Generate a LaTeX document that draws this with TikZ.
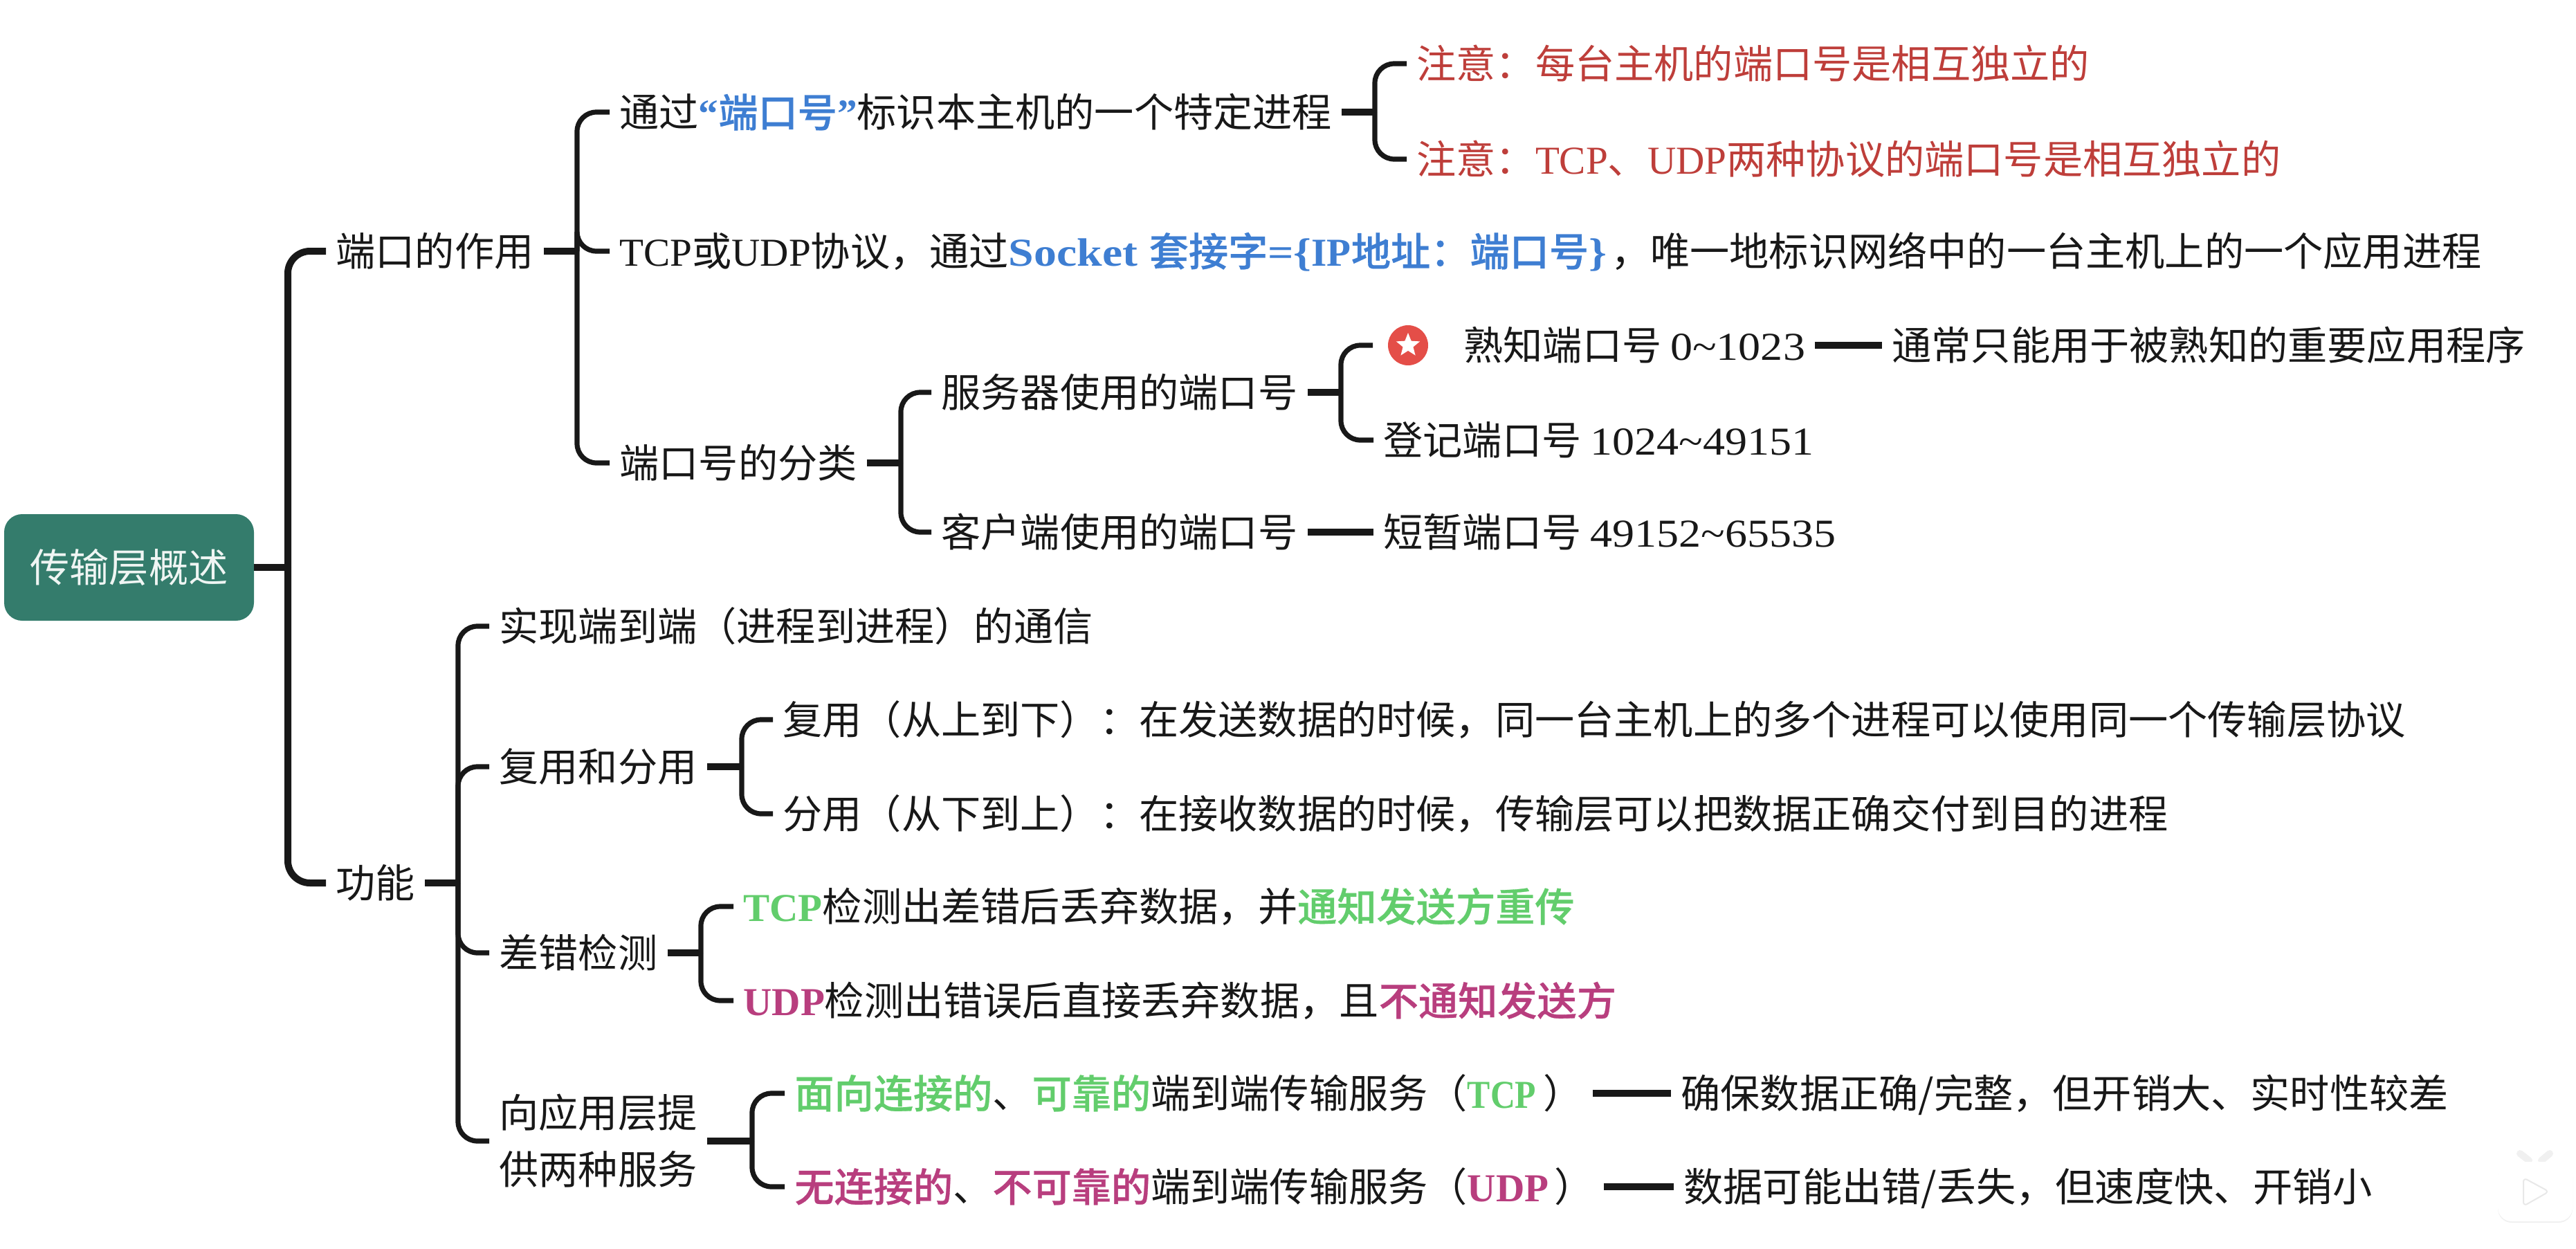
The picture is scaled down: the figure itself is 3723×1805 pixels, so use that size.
\documentclass[tikz,border=0pt]{standalone}
\usepackage{fontspec}
\usepackage{xcolor}
\usepackage{tikz}
\setmainfont{Noto Sans CJK SC}[BoldFont={Noto Sans CJK SC Medium},BoldFeatures={FakeBold=0.5}]
\newfontfamily\lat{Liberation Serif}
\newfontfamily\latw[FakeStretch=1.15]{Liberation Serif}
\newfontfamily\latn[FakeStretch=0.87]{Liberation Serif}
\newfontfamily\num[FakeStretch=1.12]{Liberation Serif}
\definecolor{rootteal}{RGB}{52,124,108}
\definecolor{inkblack}{RGB}{24,24,24}
\definecolor{keyblue}{RGB}{62,126,210}
\definecolor{notered}{RGB}{190,62,58}
\definecolor{badgered}{RGB}{228,78,72}
\definecolor{okgreen}{RGB}{98,205,108}
\definecolor{badrose}{RGB}{184,62,126}
\usetikzlibrary{shapes.geometric,positioning,shadows}

\begin{document}
\begin{tikzpicture}[
    x=0.5pt, y=-0.5pt,
    txt/.style={anchor=west, inner xsep=7pt, inner ysep=0pt, text=inkblack, font=\fontsize{28.6}{41}\selectfont, text height=25pt, text depth=3.4pt},
    rootbox/.style={rectangle, rounded corners=13pt, fill=rootteal, text=white!92!rootteal, minimum width=180.5pt, minimum height=77pt, font=\fontsize{28.6}{41}\selectfont},
    stub/.style={line width=5pt, draw=inkblack},
    bar/.style={line width=3.6pt, draw=inkblack, rounded corners=14pt},
    mainbar/.style={line width=5pt, draw=inkblack, rounded corners=16pt}
]
\useasboundingbox (0,0) rectangle (3723,1805);

% Root
\node[rootbox] (root) at (186.5,820) {传输层概述};
\coordinate (rootj) at (416,820);

% Port branch
\node[txt] (port) at (471,363) {端口的作用};
\coordinate (portj) at (834,363);
\node[txt] (ident) at (881,162) {通过{\bfseries\color{keyblue}{\lat “}端口号{\lat ”}}标识本主机的一个特定进程};
\node[txt] (sock) at (881,363) {{\lat TCP}或{\lat UDP}协议，通过{\bfseries\color{keyblue}{\latw Socket }套接字{\latw =\{}{\lat IP}地址：端口号{\latw\}}}\hspace{3pt}，唯一地标识网络中的一台主机上的一个应用进程};
\node[txt] (kind) at (881,669) {端口号的分类};
\coordinate (identj) at (1987,162);
\coordinate (kindj) at (1302,669);

% Notes
\node[txt, text=notered] (noteone) at (2033,92) {注意：每台主机的端口号是相互独立的};
\node[txt, text=notered] (notetwo) at (2033,230) {注意：{\lat TCP}、{\lat UDP}两种协议的端口号是相互独立的};

% Port ranges
\node[txt] (server) at (1346,567) {服务器使用的端口号};
\node[txt] (client) at (1346,769) {客户端使用的端口号};
\coordinate (serverj) at (1938,567);
\node[circle, fill=badgered, minimum size=29pt, inner sep=0pt, outer sep=11pt] (badge) at (2035,499) {};
\node[star, star points=5, star point ratio=2.3, fill=white, minimum size=18pt, inner sep=0pt] (badgestar) at (badge) {};
\node[txt] (known) at (2101,499) {熟知端口号 {\num 0\textasciitilde1023}\hspace{2pt}};
\node[txt] (knownuse) at (2720,499) {通常只能用于被熟知的重要应用程序};
\node[txt] (reg) at (1985,636) {登记端口号 {\num 1024\textasciitilde49151}};
\node[txt] (temp) at (1985,769) {短暂端口号 {\num 49152\textasciitilde65535}};

% Function branch
\node[txt] (func) at (471,1276) {功能};
\coordinate (funcj) at (662,1276);
\node[txt] (e2e) at (707,905) {实现端到端（进程到进程）的通信};
\node[txt] (mux) at (707,1108) {复用和分用};
\node[txt] (check) at (707,1377) {差错检测};
\node[txt, text height=, text depth=, align=left] (serv) at (707,1649) {向应用层提\\供两种服务};
\coordinate (muxj) at (1072,1108);
\coordinate (checkj) at (1013,1377);
\coordinate (servj) at (1087,1649);

% Mux details
\node[txt] (muxa) at (1117,1040) {复用（从上到下）：在发送数据的时候，同一台主机上的多个进程可以使用同一个传输层协议};
\node[txt] (muxb) at (1117,1176) {分用（从下到上）：在接收数据的时候，传输层可以把数据正确交付到目的进程};

% Error check details
\node[txt] (tcpchk) at (1060,1310) {{\bfseries\lat\color{okgreen}TCP}检测出差错后丢弃数据，并{\bfseries\color{okgreen}通知发送方重传}};
\node[txt] (udpchk) at (1060,1446) {{\bfseries\lat\color{badrose}UDP}检测出错误后直接丢弃数据，且{\bfseries\color{badrose}不通知发送方}};

% Services
\node[txt] (tcpserv) at (1134,1580) {{\bfseries\color{okgreen}面向连接的}、{\bfseries\color{okgreen}可靠的}端到端传输服务（{\bfseries\latn\color{okgreen}TCP}\hspace{5pt}）\hspace{13pt}};
\node[txt] (udpserv) at (1134,1715) {{\bfseries\color{badrose}无连接的}、{\bfseries\color{badrose}不可靠的}端到端传输服务（{\bfseries\lat\color{badrose}UDP}\hspace{4pt}）\hspace{6pt}};
\node[txt] (tcpnote) at (2415,1580) {确保数据正确/完整，但开销大、实时性较差};
\node[txt] (udpnote) at (2419,1715) {数据可能出错/丢失，但速度快、开销小};

% Connectors
\draw[stub] (root.east) -- (rootj);
\foreach \kid in {port,func} \draw[mainbar] (rootj) |- (\kid.west);
\draw[stub] (port.east) -- (portj);
\foreach \kid in {ident,sock,kind} \draw[bar] (portj) |- (\kid.west);
\draw[stub] (ident.east) -- (identj);
\foreach \kid in {noteone,notetwo} \draw[bar] (identj) |- (\kid.west);
\draw[stub] (kind.east) -- (kindj);
\foreach \kid in {server,client} \draw[bar] (kindj) |- (\kid.west);
\draw[stub] (server.east) -- (serverj);
\foreach \kid in {badge,reg} \draw[bar] (serverj) |- (\kid.west);
\draw[stub] (known.east) -- (knownuse.west);
\draw[stub] (client.east) -- (temp.west);
\draw[stub] (func.east) -- (funcj);
\foreach \kid in {e2e,mux,check,serv} \draw[bar] (funcj) |- (\kid.west);
\draw[stub] (mux.east) -- (muxj);
\foreach \kid in {muxa,muxb} \draw[bar] (muxj) |- (\kid.west);
\draw[stub] (check.east) -- (checkj);
\foreach \kid in {tcpchk,udpchk} \draw[bar] (checkj) |- (\kid.west);
\draw[stub] (serv.east) -- (servj);
\foreach \kid in {tcpserv,udpserv} \draw[bar] (servj) |- (\kid.west);
\draw[stub] (tcpserv.east) -- (tcpnote.west);
\draw[stub] (udpserv.east) -- (udpnote.west);

% Player icon
\draw[line width=5pt, line cap=round, draw=gray!12] (3655,1677) -- (3642,1667) (3673,1677) -- (3685,1667);
\node[rectangle, rounded corners=10pt, fill=white, minimum width=54pt, minimum height=43pt, drop shadow={opacity=0.12, shadow xshift=0pt, shadow yshift=-1pt}] (player) at (3664,1722) {};
\draw[draw=gray!18, fill=white, line width=1pt, rounded corners=3pt] (3647,1702) -- (3684,1722) -- (3647,1743) -- cycle;

\end{tikzpicture}
\end{document}
